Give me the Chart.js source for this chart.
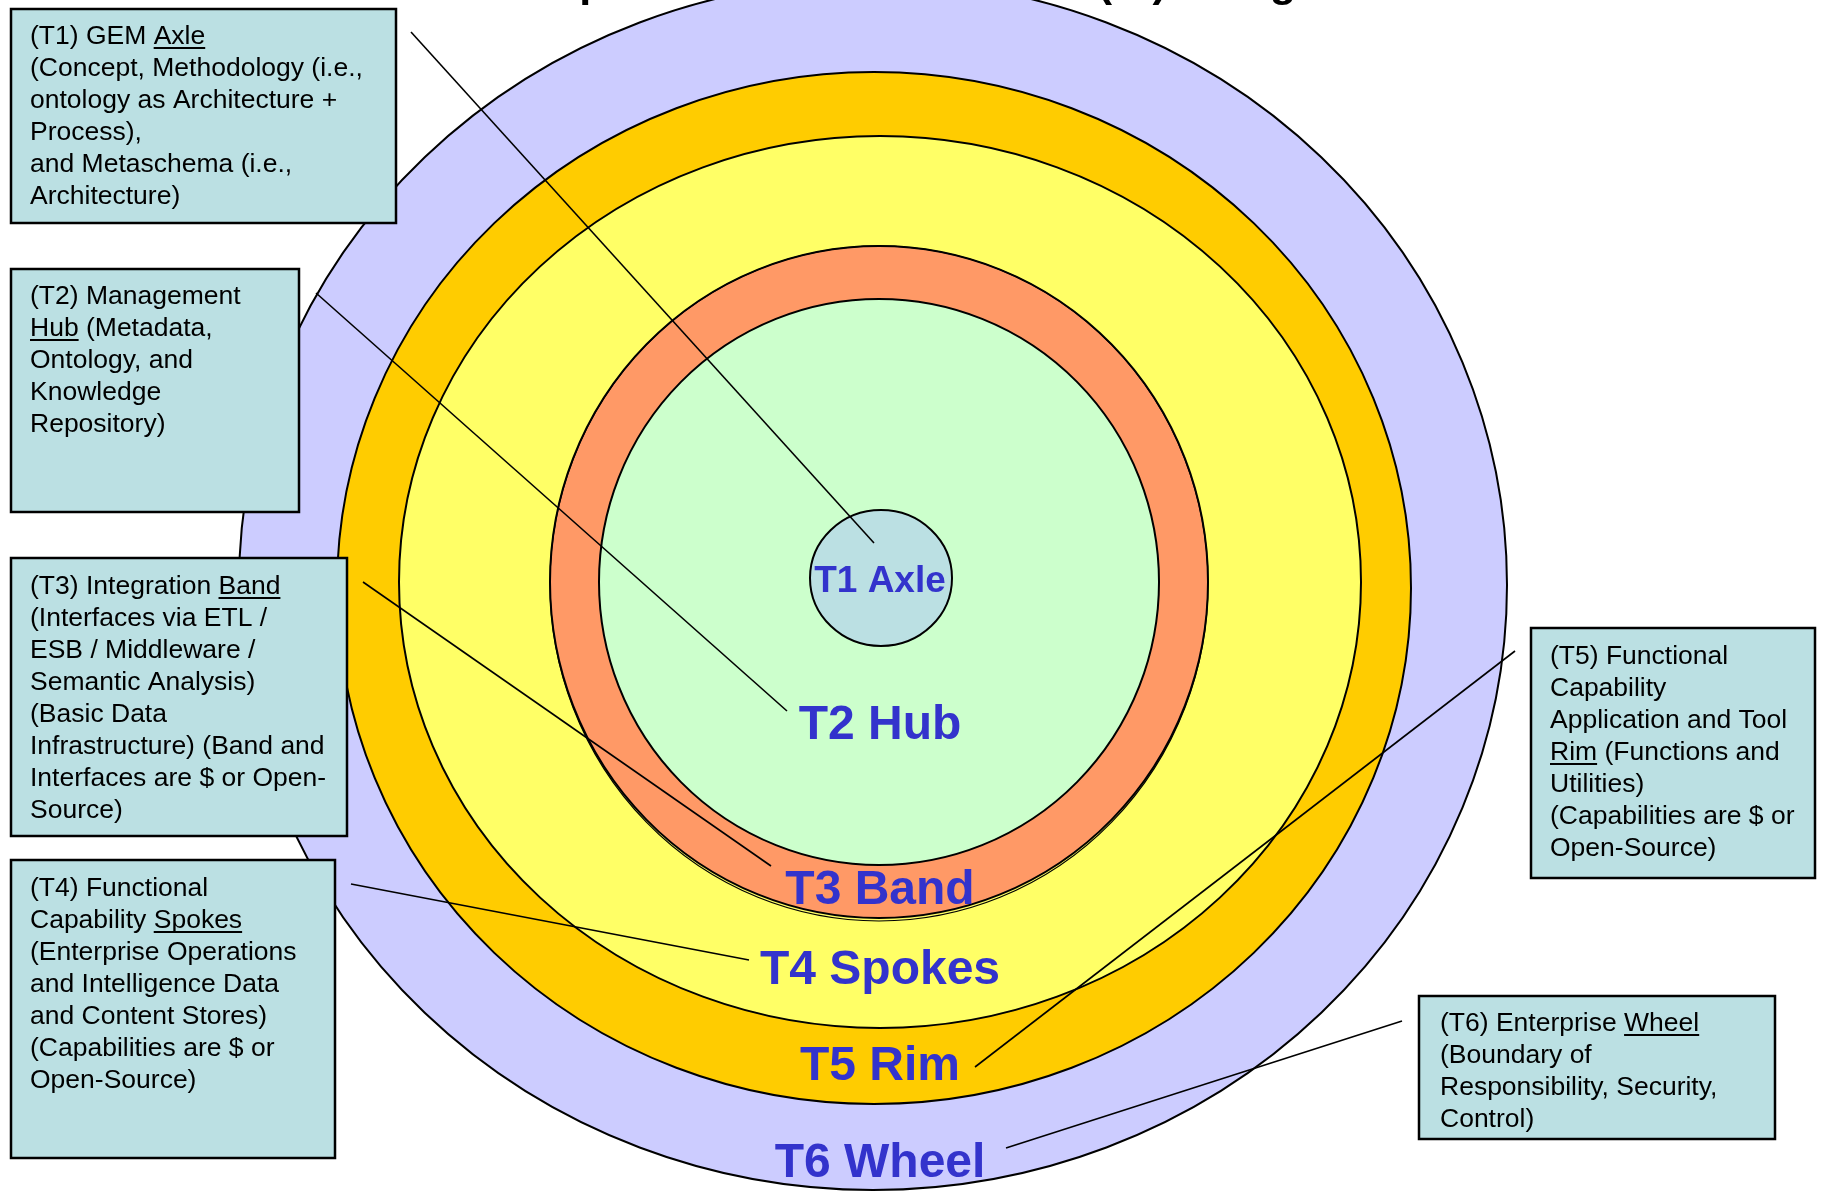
<!DOCTYPE html>
<html><head><meta charset="utf-8">
<script src="https://cdn.jsdelivr.net/npm/chart.js@4.4.1/dist/chart.umd.min.js"></script>
<style>html,body{margin:0;padding:0;background:#fff;overflow:hidden}canvas{display:block}</style>
</head><body>
<canvas id="c" width="1821" height="1193" style="width:1821px;height:1193px"></canvas>
<script>
// ---- Data (diagram units on hidden linear axes) ----
const tierCodes = ['T1', 'T2', 'T3', 'T4', 'T5', 'T6'];
const tierNames = ['Axle', 'Hub', 'Band', 'Spokes', 'Rim', 'Wheel'];
// outer semi-axes of each tier ring (T1..T6)
const ringRadiusX = [71, 280, 329, 481, 537, 634];
const ringRadiusY = [68, 283, 336, 446, 516, 605];
const ringCenterX = [881, 879, 879, 880, 874, 873];
const ringCenterY = [578, 582, 582, 582, 588, 585];

const titleText = 'Conceptual Architecture Wheel (W) Design';

const boxTexts = [
  ['(T1) GEM _Axle_', '(Concept, Methodology (i.e.,', 'ontology as Architecture +', 'Process),', 'and Metaschema (i.e.,', 'Architecture)'],
  ['(T2) Management', '_Hub_ (Metadata,', 'Ontology, and', 'Knowledge', 'Repository)'],
  ['(T3) Integration _Band_', '(Interfaces via ETL /', 'ESB / Middleware /', 'Semantic Analysis)', '(Basic Data', 'Infrastructure) (Band and', 'Interfaces are $ or Open-', 'Source)'],
  ['(T4) Functional', 'Capability _Spokes_', '(Enterprise Operations', 'and Intelligence Data', 'and Content Stores)', '(Capabilities are $ or', 'Open-Source)'],
  ['(T5) Functional', 'Capability', 'Application and Tool', '_Rim_ (Functions and', 'Utilities)', '(Capabilities are $ or', 'Open-Source)'],
  ['(T6) Enterprise _Wheel_', '(Boundary of', 'Responsibility, Security,', 'Control)']
];

// ---- Layout & style (not data) ----
const ringFill = ['#BBE0E3', '#CCFFCC', '#FF9966', '#FFFF66', '#FFCC00', '#CCCCFF'];
const labelLayout = [ // x center, baseline, font size
  {x: 880, y: 592, s: 37}, {x: 880, y: 739, s: 48}, {x: 880, y: 904, s: 48},
  {x: 880, y: 984, s: 48}, {x: 880, y: 1080, s: 48}, {x: 880, y: 1177, s: 48}
];
const boxLayout = [
  {x: 11, y: 9, w: 385, h: 214, tx: 30, ty: 44},
  {x: 11, y: 269, w: 288, h: 243, tx: 30, ty: 304},
  {x: 11, y: 558, w: 336, h: 278, tx: 30, ty: 594},
  {x: 11, y: 860, w: 324, h: 298, tx: 30, ty: 896},
  {x: 1531, y: 628, w: 284, h: 250, tx: 1550, ty: 664},
  {x: 1419, y: 996, w: 356, h: 143, tx: 1440, ty: 1031}
];
const callouts = [
  [[411, 32], [874, 543]],
  [[316, 293], [787, 711]],
  [[363, 582], [771, 866]],
  [[351, 884], [749, 960]],
  [[1515, 651], [975, 1067]],
  [[1402, 1021], [1006, 1148]]
];
const FONT = '"Liberation Sans", Arial, Helvetica, sans-serif';

function ellipsePath(ctx, xs, ys, cx, cy, rx, ry) {
  const px = xs.getPixelForValue(cx), py = ys.getPixelForValue(cy);
  const prx = Math.abs(xs.getPixelForValue(cx + rx) - px);
  const pry = Math.abs(ys.getPixelForValue(cy + ry) - py);
  ctx.beginPath();
  ctx.ellipse(px, py, prx, pry, 0, 0, Math.PI * 2);
}

function drawRichLine(ctx, text, x, y) {
  const parts = text.split('_');
  let cx = x;
  parts.forEach((p, i) => {
    if (!p) return;
    ctx.fillText(p, cx, y);
    const w = ctx.measureText(p).width;
    if (i % 2 === 1) {
      ctx.fillRect(cx, y + 3, w, 2);
    }
    cx += w;
  });
}

const wheelPlugin = {
  id: 'wheel',
  beforeDatasetsDraw(chart) {
    const {ctx, scales: {x, y}} = chart;
    ctx.save();
    for (let i = tierCodes.length - 1; i >= 0; i--) {
      ellipsePath(ctx, x, y, ringCenterX[i], ringCenterY[i], ringRadiusX[i], ringRadiusY[i]);
      ctx.fillStyle = ringFill[i];
      ctx.fill();
      ctx.lineWidth = 2;
      ctx.strokeStyle = '#000';
      ctx.stroke();
      if (i === 2) {
        ellipsePath(ctx, x, y, ringCenterX[i], ringCenterY[i] + 1.5, ringRadiusX[i], ringRadiusY[i] + 1.5);
        ctx.lineWidth = 1.2;
        ctx.stroke();
      }
    }
    ctx.restore();
  },
  afterDatasetsDraw(chart) {
    const {ctx, scales: {x, y}} = chart;
    ctx.save();
    // title (cut off at the top, as in the source)
    ctx.fillStyle = '#000';
    ctx.font = 'bold 43px ' + FONT;
    ctx.textAlign = 'center';
    ctx.textBaseline = 'alphabetic';
    ctx.fillText(titleText, x.getPixelForValue(885), y.getPixelForValue(-4));

    // tier labels
    ctx.fillStyle = '#3333CC';
    tierCodes.forEach((c, i) => {
      const L = labelLayout[i];
      ctx.font = 'bold ' + L.s + 'px ' + FONT;
      ctx.fillText(c + ' ' + tierNames[i], x.getPixelForValue(L.x), y.getPixelForValue(L.y));
    });

    // description boxes
    ctx.textAlign = 'left';
    boxTexts.forEach((lines, i) => {
      const B = boxLayout[i];
      const bx = x.getPixelForValue(B.x), by = y.getPixelForValue(B.y);
      const bw = x.getPixelForValue(B.x + B.w) - bx, bh = y.getPixelForValue(B.y + B.h) - by;
      ctx.fillStyle = '#BBE0E3';
      ctx.fillRect(bx, by, bw, bh);
      ctx.lineWidth = 2.5;
      ctx.strokeStyle = '#000';
      ctx.strokeRect(bx, by, bw, bh);
      ctx.fillStyle = '#000';
      ctx.font = '26.5px ' + FONT;
      lines.forEach((ln, k) => {
        drawRichLine(ctx, ln, x.getPixelForValue(B.tx), y.getPixelForValue(B.ty + k * 32));
      });
    });
    ctx.restore();
  }
};

new Chart(document.getElementById('c'), {
  type: 'scatter',
  data: {
    datasets: callouts.map((seg, i) => ({
      label: tierCodes[i] + ' callout',
      data: seg.map(p => ({x: p[0], y: p[1]})),
      showLine: true,
      borderColor: '#000',
      borderWidth: 1.6,
      pointRadius: 0,
      pointHoverRadius: 0,
      fill: false
    }))
  },
  options: {
    responsive: false,
    animation: false,
    events: [],
    layout: {padding: 0, autoPadding: false},
    plugins: {legend: {display: false}, tooltip: {enabled: false}, title: {display: false}},
    scales: {
      x: {type: 'linear', min: 0, max: 1821, display: false},
      y: {type: 'linear', min: 0, max: 1193, reverse: true, display: false}
    }
  },
  plugins: [wheelPlugin]
});
</script>
</body></html>
